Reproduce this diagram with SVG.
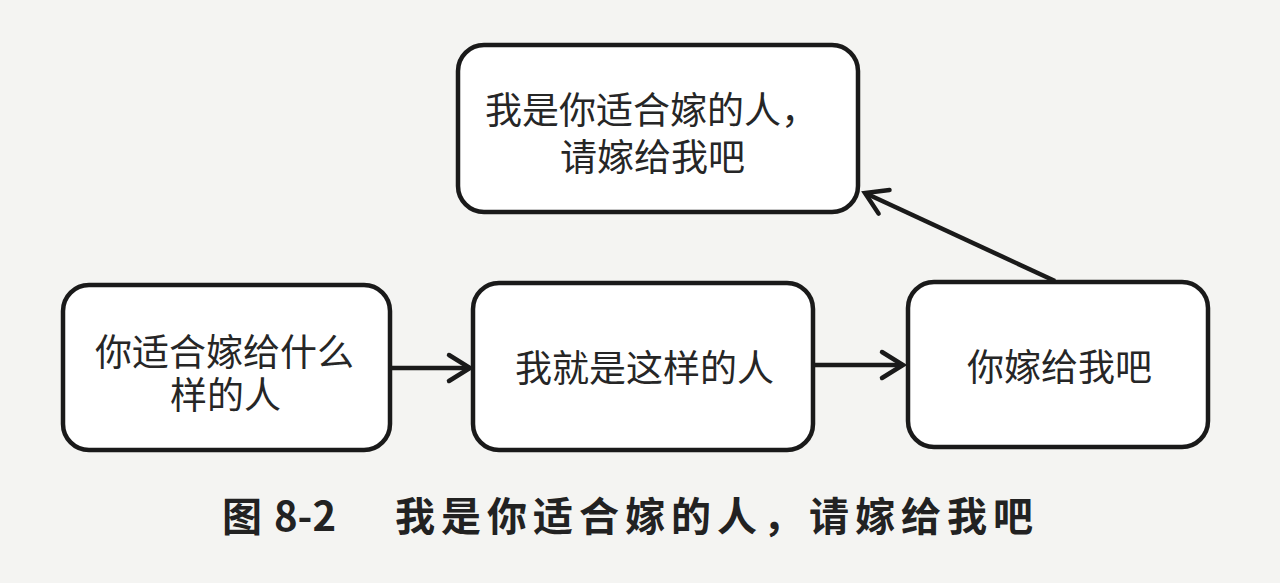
<svg xmlns="http://www.w3.org/2000/svg" width="1280" height="583" viewBox="0 0 1280 583">
<style>
.box{fill:#ffffff;stroke:#1a1a1a;stroke-width:4.5}
.lbl{font-family:"Noto Sans CJK SC","Noto Sans",sans-serif;font-size:37px;fill:#262626}
.edge{stroke:#1a1a1a;stroke-width:4.5;fill:none}
.cap{font-family:"Noto Sans CJK SC","Noto Sans",sans-serif;font-size:40px;font-weight:bold;fill:#222}
</style>
<defs>
<marker id="arr" markerUnits="userSpaceOnUse" markerWidth="30" markerHeight="32" viewBox="0 0 30 32" refX="25" refY="16" orient="auto" overflow="visible">
<path d="M 4 3 L 25 16 L 4 29" fill="none" stroke="#1a1a1a" stroke-width="4.5" stroke-linecap="round" stroke-linejoin="miter"/>
</marker>
</defs>
<rect width="1280" height="583" fill="#f4f4f2"/>
<g id="n_top">
<rect class="box" x="458" y="45" width="400" height="167" rx="26"/>
<text class="lbl" x="485" y="124">我是你适合嫁的人，</text>
<text class="lbl" x="560" y="171">请嫁给我吧</text>
</g>
<g id="n_left">
<rect class="box" x="63" y="285" width="327" height="165" rx="26"/>
<text class="lbl" x="95" y="366">你适合嫁给什么</text>
<text class="lbl" x="170" y="409">样的人</text>
</g>
<g id="n_mid">
<rect class="box" x="473" y="283" width="340" height="167" rx="26"/>
<text class="lbl" x="515" y="382">我就是这样的人</text>
</g>
<g id="n_right">
<rect class="box" x="908" y="282" width="300" height="165" rx="26"/>
<text class="lbl" x="967" y="381">你嫁给我吧</text>
</g>
<g id="edges">
<line class="edge" x1="390" y1="368" x2="470" y2="368" marker-end="url(#arr)"/>
<line class="edge" x1="813" y1="365" x2="903" y2="365" marker-end="url(#arr)"/>
<line class="edge" x1="1055" y1="281" x2="865" y2="193" marker-end="url(#arr)"/>
</g>
<text class="cap" y="531"><tspan x="222">图</tspan><tspan x="274">8-2</tspan><tspan x="395" letter-spacing="6">我是你适合嫁的人，请嫁给我吧</tspan></text>
</svg>
